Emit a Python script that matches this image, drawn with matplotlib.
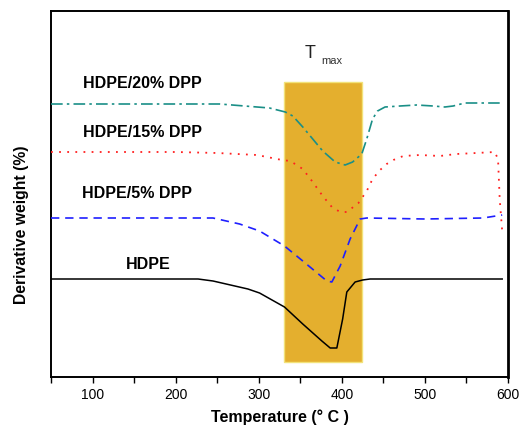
import matplotlib
matplotlib.use("Agg")
import matplotlib.pyplot as plt
from matplotlib.patches import Rectangle
from matplotlib.ticker import MultipleLocator

# DTG curves, values (arbitrary units, higher = up)
hdpe_t = [50, 227, 245, 287, 301, 331, 353, 376, 386, 394, 401, 406, 416, 425, 434, 593]
hdpe_y = [98, 98, 96, 88, 84, 70, 53, 36, 29, 29, 58, 85, 95, 97, 98, 98]

dpp5_t = [50, 245, 277, 301, 331, 353, 382, 388, 398, 410, 422, 430, 500, 570, 593]
dpp5_y = [159, 159, 153, 146, 131, 116, 96, 95, 111, 138, 158, 159, 158, 159, 162]

dpp15_t = [50, 200, 250, 298, 310, 328, 338, 353, 365, 377, 388, 398, 406, 420,
           430, 437, 446, 454, 462, 474, 494, 518, 538, 562, 584, 588, 590, 593]
dpp15_y = [225, 225, 224, 222, 220, 217, 216, 208, 195, 181, 170, 165, 165, 174,
           186, 198, 207, 213, 217, 221, 222, 221, 223, 224, 225, 218, 178, 146]

dpp20_t = [50, 253, 298, 313, 332, 341, 353, 365, 377, 392, 404, 413, 424, 430,
           437, 443, 452, 470, 490, 510, 524, 534, 548, 566, 590]
dpp20_y = [273, 273, 270, 269, 265, 261, 250, 238, 226, 215, 212, 215, 223, 238,
           258, 266, 270, 271, 272, 271, 270, 271, 274, 274, 274]

# Tmax band
band_t = (331, 424)
band_y = (15, 295)

plt.rcParams['font.family'] = ['Liberation Sans', 'DejaVu Sans']

fig = plt.figure(figsize=(5.2, 4.31), dpi=100)
ax = fig.add_axes([51 / 520, 1 - 378 / 431, 457 / 520, 366 / 431])

ax.add_patch(Rectangle((band_t[0], band_y[0]), band_t[1] - band_t[0],
                       band_y[1] - band_y[0], facecolor="#e4af2e",
                       edgecolor="#f2e27a", linewidth=1.0, zorder=1))

ax.plot(hdpe_t, hdpe_y, color="black", lw=1.1, zorder=3)
ax.plot(dpp5_t, dpp5_y, color="#1f1fff", lw=1.2, ls=(0, (5, 3.5)), zorder=3)
ax.plot(dpp15_t, dpp15_y, color="#ff2020", lw=1.3, ls=(0, (1, 3.5)), zorder=3)
ax.plot(dpp20_t, dpp20_y, color="#1a8f87", lw=1.2, ls=(0, (7, 2.5, 1.5, 2.5)), zorder=3)

lab = dict(fontsize=11.5, fontweight="bold", va="center", ha="left")
ax.text(88, 295, "HDPE/20% DPP", **lab)
ax.text(88, 245, "HDPE/15% DPP", **lab)
ax.text(87, 184, "HDPE/5% DPP", **lab)
ax.text(140, 113, "HDPE", **lab)

ax.text(355, 325, "T", fontsize=13, va="center", ha="left", color="#222222")
ax.text(375, 317, "max", fontsize=8, va="center", ha="left", color="#333333")

ax.set_xlim(50, 600)
ax.set_ylim(0, 366)
ax.xaxis.set_major_locator(MultipleLocator(100))
ax.xaxis.set_minor_locator(MultipleLocator(50))
ax.tick_params(axis="x", which="both", direction="out", length=4, width=1,
               labelsize=10, pad=3.5)
ax.set_yticks([])

for s in ax.spines.values():
    s.set_linewidth(1.4)
ax.spines["right"].set_linewidth(2)

ax.set_xlabel("Temperature (° C )", fontsize=11.5, fontweight="bold", labelpad=5)
ax.set_ylabel("Derivative weight (%)", fontsize=11.3, fontweight="bold")
ax.yaxis.set_label_coords(-0.048, 0.42)

fig.savefig("out.png", dpi=100)
